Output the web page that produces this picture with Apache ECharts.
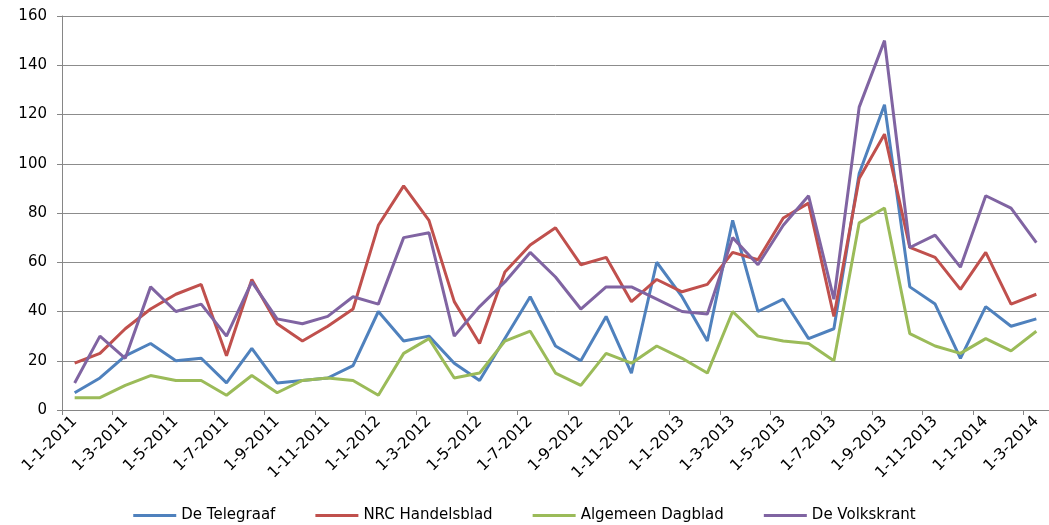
<!DOCTYPE html>
<html>
<head>
<meta charset="utf-8">
<script src="https://cdn.jsdelivr.net/npm/echarts@6/dist/echarts.min.js"></script>
<style>
html,body{margin:0;padding:0;background:#fff;}
#c{width:1049px;height:525px;}
</style>
</head>
<body>
<div id="c"></div>
<script>
var categories = [
  "1-1-2011","1-2-2011","1-3-2011","1-4-2011","1-5-2011","1-6-2011","1-7-2011","1-8-2011","1-9-2011","1-10-2011","1-11-2011","1-12-2011",
  "1-1-2012","1-2-2012","1-3-2012","1-4-2012","1-5-2012","1-6-2012","1-7-2012","1-8-2012","1-9-2012","1-10-2012","1-11-2012","1-12-2012",
  "1-1-2013","1-2-2013","1-3-2013","1-4-2013","1-5-2013","1-6-2013","1-7-2013","1-8-2013","1-9-2013","1-10-2013","1-11-2013","1-12-2013",
  "1-1-2014","1-2-2014","1-3-2014"
];
var telegraaf = [7,13,22,27,20,21,11,25,11,12,13,18,40,28,30,19,12,29,46,26,20,38,15,60,46,28,77,40,45,29,33,96,124,50,43,21,42,34,37];
var nrc       = [19,23,33,41,47,51,22,53,35,28,34,41,75,91,77,44,27,56,67,74,59,62,44,53,48,51,64,61,78,84,38,94,112,66,62,49,64,43,47];
var ad        = [5,5,10,14,12,12,6,14,7,12,13,12,6,23,29,13,15,28,32,15,10,23,19,26,21,15,40,30,28,27,20,76,82,31,26,23,29,24,32];
var volkskrant= [11,30,21,50,40,43,30,52,37,35,38,46,43,70,72,30,42,52,64,54,41,50,50,45,40,39,70,59,75,87,45,123,150,66,71,58,87,82,68];
var seriesNames = ["De Telegraaf","NRC Handelsblad","Algemeen Dagblad","De Volkskrant"];
var colors = ["#4F81BD","#C0504D","#9BBB59","#8064A2"];

var chart = echarts.init(document.getElementById('c'));
var fontFam = "'DejaVu Sans', 'Liberation Sans', Arial, sans-serif";
function mk(name, data, color){
  return {name:name, type:'line', data:data, symbol:'none', smooth:false,
    lineStyle:{width:3, color:color}, itemStyle:{color:color}, animation:false};
}
chart.setOption({
  backgroundColor:'#fff',
  animation:false,
  color: colors,
  grid:{left:62, top:16, width:992, height:394, containLabel:false},
  legend:{
    top:503, left:'center',
    icon:'rect', itemWidth:43, itemHeight:3, itemGap:40,
    textStyle:{fontSize:15, color:'#000', fontFamily:fontFam},
    data:seriesNames
  },
  xAxis:{
    type:'category', data:categories, boundaryGap:true,
    axisLine:{show:true, lineStyle:{color:'#868686', width:1}},
    axisTick:{show:true, interval:1, length:5, lineStyle:{color:'#868686'}},
    axisLabel:{interval:1, rotate:45, margin:9, fontSize:15.5, color:'#000', fontFamily:fontFam},
    splitLine:{show:false}
  },
  yAxis:{
    type:'value', min:0, max:160, interval:20,
    axisLine:{show:true, lineStyle:{color:'#868686', width:1}},
    axisTick:{show:true, length:5, inside:false, lineStyle:{color:'#868686'}},
    axisLabel:{fontSize:15, color:'#000', margin:15, fontFamily:fontFam},
    splitLine:{show:true, lineStyle:{color:'#8c8c8c', width:1}}
  },
  series:[
    mk(seriesNames[0], telegraaf, colors[0]),
    mk(seriesNames[1], nrc, colors[1]),
    mk(seriesNames[2], ad, colors[2]),
    mk(seriesNames[3], volkskrant, colors[3])
  ]
});
</script>
</body>
</html>
